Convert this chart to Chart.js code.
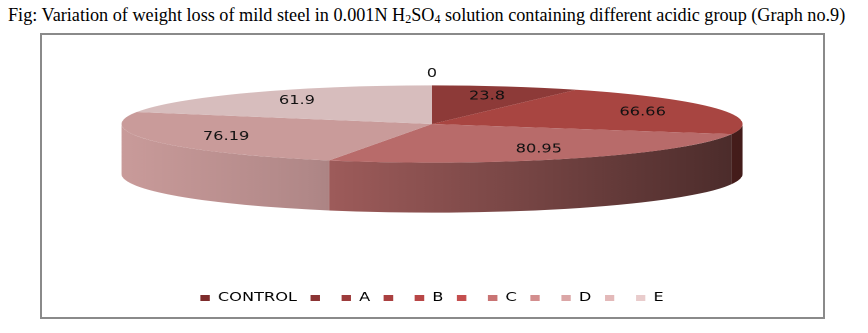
<!DOCTYPE html>
<html>
<head>
<meta charset="utf-8">
<script src="https://cdn.jsdelivr.net/npm/chart.js@4.4.1/dist/chart.umd.min.js"></script>
<style>
  html, body { margin: 0; padding: 0; background: #fff; }
  body { width: 868px; height: 333px; position: relative; overflow: hidden; }
  #title {
    position: absolute; left: 8px; top: 5px; white-space: nowrap;
    font: 18.2px 'Liberation Serif', 'Times New Roman', serif; color: #000;
  }
  #title sub { font-size: 12px; vertical-align: -2px; line-height: 0; }
  #frame {
    position: absolute; left: 40px; top: 33px; width: 781px; height: 282px;
    border: 2px solid #8a8a8a;
  }
  /* chart is drawn narrow and stretched sideways, like the source picture */
  #wrap {
    position: absolute; left: 0; top: -34px; width: 640px; height: 348px;
    transform: scaleX(1.35); transform-origin: 0 0;
  }
</style>
</head>
<body>
<div id="title">Fig: Variation of weight loss of mild steel in 0.001N H<sub>2</sub>SO<sub>4</sub> solution containing different acidic group (Graph no.9)</div>
<div id="frame"></div>
<div id="wrap"><canvas id="pieChart"></canvas></div>
<script>
// data (blank rows are empty legend entries)
const categories = ['CONTROL', '', 'A', '', 'B', '', 'C', '', 'D', '', 'E'];
const weightLoss = [0, null, 23.8, null, 66.66, null, 80.95, null, 76.19, null, 61.9];

// colours
const faceColors = ['#7d2b2b', '#8b3434', '#8d3a38', '#aa4040', '#a84541', '#c44e4e',
                    '#b86b6a', '#d38e8e', '#c99b9a', '#e3b9b9', '#d7bdbd'];
const legendColors = ['#7d2b2b', '#8b3434', '#9d3c3c', '#aa4040', '#b84646', '#c44e4e',
                      '#c97474', '#d38e8e', '#dba6a6', '#e3b9b9', '#e9cccc'];

const TILT = 0.168;   // vertical squash of the pie top
const DEPTH = 50;     // thickness of the 3d rim in px

function shade(hex, f) {
  const n = parseInt(hex.slice(1), 16);
  const r = Math.round(((n >> 16) & 255) * f);
  const g = Math.round(((n >> 8) & 255) * f);
  const b = Math.round((n & 255) * f);
  return `rgb(${r},${g},${b})`;
}

// fake 3d: squash the pie and draw the front rim under it
const pie3d = {
  id: 'pie3d',
  beforeDatasetsDraw(chart) {
    const ctx = chart.ctx;
    const arcs = chart.getDatasetMeta(0).data;
    if (!arcs.length) return;
    const cx = arcs[0].x, cy = arcs[0].y, r = arcs[0].outerRadius;
    const ry = r * TILT;

    arcs.forEach((arc, i) => {
      const a0 = Math.max(arc.startAngle, 0);
      const a1 = Math.min(arc.endAngle, Math.PI);
      if (a1 <= a0) return;
      const base = faceColors[i];
      const grad = ctx.createLinearGradient(cx - r, 0, cx + r, 0);
      grad.addColorStop(0, shade(base, 1.0));
      grad.addColorStop(0.3, shade(base, 0.88));
      grad.addColorStop(0.6, shade(base, 0.68));
      grad.addColorStop(1, shade(base, 0.4));
      ctx.save();
      ctx.beginPath();
      ctx.ellipse(cx, cy, r, ry, 0, a0, a1);
      ctx.lineTo(cx + r * Math.cos(a1), cy + ry * Math.sin(a1) + DEPTH);
      ctx.ellipse(cx, cy + DEPTH, r, ry, 0, a1, a0, true);
      ctx.closePath();
      ctx.fillStyle = grad;
      ctx.fill();
      ctx.restore();
    });

    ctx.save();
    ctx.translate(cx, cy);
    ctx.scale(1, TILT);
    ctx.translate(-cx, -cy);
  },
  afterDatasetsDraw(chart) {
    const ctx = chart.ctx;
    ctx.restore();
    const arcs = chart.getDatasetMeta(0).data;
    ctx.save();
    ctx.font = '12px "DejaVu Sans", sans-serif';
    ctx.fillStyle = '#111';
    ctx.textAlign = 'center';
    ctx.textBaseline = 'middle';
    arcs.forEach((arc, i) => {
      const v = weightLoss[i];
      if (v === null) return;
      const mid = (arc.startAngle + arc.endAngle) / 2;
      const f = v === 0 ? 1.3 : 0.74;
      const x = arc.x + arc.outerRadius * f * Math.cos(mid);
      const y = arc.y + arc.outerRadius * TILT * f * Math.sin(mid);
      ctx.fillText(String(v), x, y);
    });
    ctx.restore();
  }
};

new Chart(document.getElementById('pieChart'), {
  type: 'pie',
  data: {
    labels: categories,
    datasets: [{
      data: weightLoss,
      backgroundColor: faceColors,
      borderWidth: 0,
      clip: false
    }]
  },
  options: {
    responsive: true,
    maintainAspectRatio: false,
    animation: false,
    events: [],
    devicePixelRatio: 2,
    radius: 230,
    layout: { padding: 0 },
    plugins: {
      tooltip: { enabled: false },
      legend: {
        position: 'bottom',
        labels: {
          boxWidth: 7,
          boxHeight: 6,
          padding: 10,
          color: '#222',
          font: { family: '"DejaVu Sans", sans-serif', size: 12 },
          generateLabels: () => categories.map((c, i) => ({
            text: c,
            fillStyle: legendColors[i],
            strokeStyle: legendColors[i],
            lineWidth: 0,
            hidden: false,
            index: i
          }))
        }
      }
    }
  },
  plugins: [pie3d]
});
</script>
</body>
</html>
